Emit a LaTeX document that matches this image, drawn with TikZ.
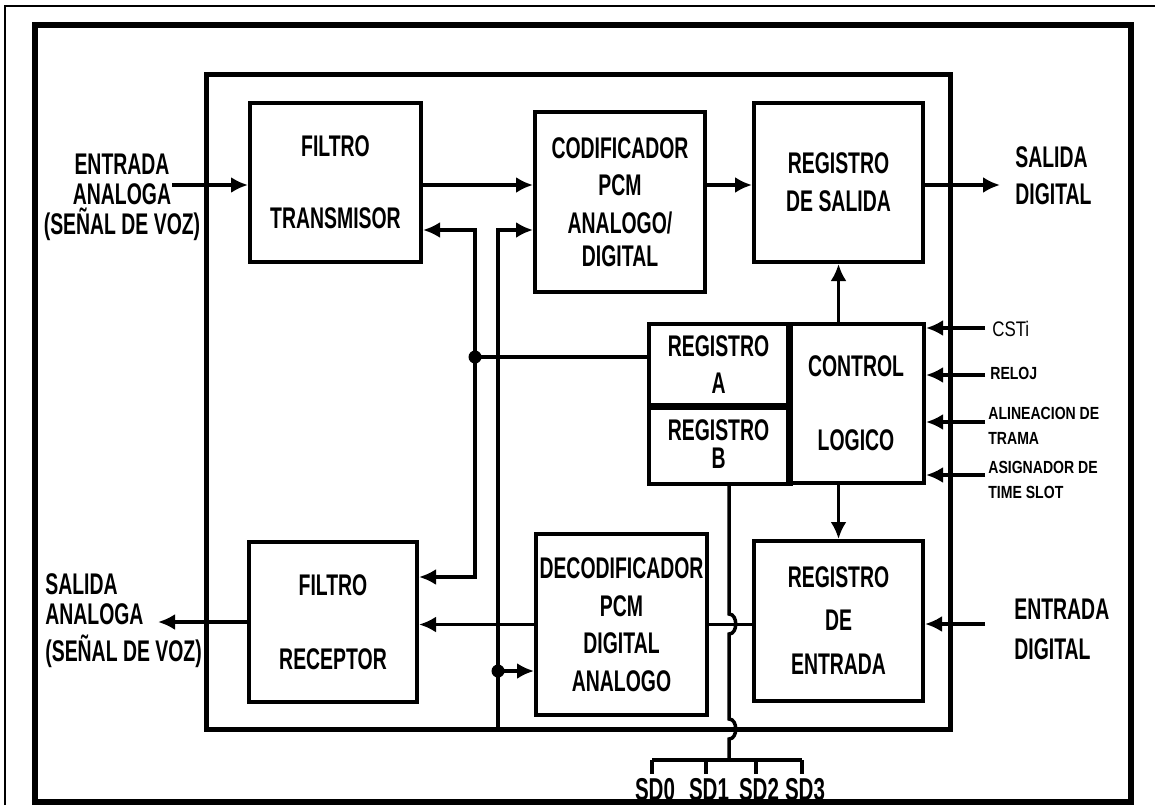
\documentclass[tikz,border=0pt]{standalone}
\usepackage{fontspec}
\newfontfamily\condfont{Liberation Sans}[FakeStretch=0.65]
\newfontfamily\narrowfont{Liberation Sans}[FakeStretch=0.8]
\usepackage{tikz}
\usetikzlibrary{arrows.meta, positioning, calc}

\begin{document}
\begin{tikzpicture}[
        x=0.2mm, y=-0.2mm,
        box/.style={rectangle, draw, line width=0.8mm, inner sep=0pt, align=center,
            font=\condfont\bfseries\fontsize{17}{20}\selectfont},
        chipbox/.style={rectangle, draw, line width=1mm, inner sep=0pt},
        tag/.style={align=center, inner sep=0pt, font=\condfont\bfseries\fontsize{17}{17}\selectfont},
        pin/.style={align=left, inner sep=0pt, anchor=west, font=\narrowfont\bfseries\fontsize{10}{14}\selectfont},
        sdtag/.style={inner sep=0pt, font=\condfont\bfseries\fontsize{18}{18}\selectfont},
        wire/.style={line width=0.7mm},
        arrow/.style={wire, ->},
        dot/.style={circle, fill, inner sep=0pt, minimum size=2.6mm},
        >={Latex[length=3.4mm,width=3.2mm]}
    ]
    \useasboundingbox (0,0) rectangle (1161,805);

    % marcos
    \draw[line width=0.3mm] (5,805) -- (5,6) -- (1155,6);
    \draw[line width=1.2mm] (35,25) rectangle (1131,802);
    \node (chip) [chipbox, minimum width=148.6mm, minimum height=130.8mm] at (578.5,402) {};

    % bloques
    \node (ftx) [box, minimum width=34.2mm, minimum height=31.8mm] at (335.5,182.5) {FILTRO\\[21pt]TRANSMISOR};
    \node (cod) [box, minimum width=34mm, minimum height=36mm] at (620,202) {CODIFICADOR\\[1pt]PCM\\[1.5pt]ANALOGO/\\[-1.3pt]DIGITAL};
    \node (rsal) [box, minimum width=33.8mm, minimum height=31.8mm] at (838.5,182.5) {REGISTRO\\[1.5pt]DE SALIDA};
    \node (rega) [box, minimum width=27.8mm, minimum height=16.2mm] at (718.5,364.5) {REGISTRO\\[1pt]A};
    \node (regb) [box, minimum width=27.8mm, minimum height=15.8mm] at (718.5,444.5) {REGISTRO\\[-4pt]B};
    \node (ctrl) [box, minimum width=27.2mm, minimum height=31.8mm] at (856,403.5) {CONTROL\\[22pt]LOGICO};
    \node (rent) [box, minimum width=33.8mm, minimum height=32mm] at (838.5,621) {REGISTRO\\[4pt]DE\\[5.5pt]ENTRADA};
    \node (dec) [box, minimum width=34.2mm, minimum height=36.2mm] at (621.5,624.5) {DECODIFICADOR\\[1.5pt]PCM\\[1pt]DIGITAL\\[1.5pt]ANALOGO};
    \node (frx) [box, minimum width=33.6mm, minimum height=32mm] at (333,622) {FILTRO\\[22pt]RECEPTOR};
    \draw[line width=1.1mm] (rega.north east) -- (regb.south east);
    \draw[line width=1.1mm] (rega.south west) -- (rega.south east);

    % textos exteriores
    \node (entana) [tag] at (122,197) {ENTRADA\\ANALOGA\\(SEÑAL DE VOZ)};
    \node (salana) [tag, align=left, anchor=west] at (45,621) {SALIDA\\[0pt]ANALOGA\\[4pt](SEÑAL DE VOZ)};
    \node (saldig) [tag, align=left, anchor=west] at (1015,176) {SALIDA\\[4pt]DIGITAL};
    \node (entdig) [tag, align=left, anchor=west] at (1014,629) {ENTRADA\\[5.7pt]DIGITAL};
    \node (csti) [pin, font=\narrowfont\fontsize{12}{14}\selectfont] at (992,329) {CSTi};
    \node (reloj) [pin] at (990,373) {RELOJ};
    \node (trama) [pin] at (988,426) {ALINEACION DE\\TRAMA};
    \node (slot) [pin] at (988,480) {ASIGNADOR DE\\TIME SLOT};

    % camino de transmision
    \coordinate (ain) at (172,185);
    \coordinate (dout) at (1000,185);
    \draw[arrow] (ain) -- (ain -| ftx.west);
    \draw[arrow] (ftx.east |- ain) -- (ain -| cod.west);
    \draw[arrow] (cod.east |- ain) -- (ain -| rsal.west);
    \draw[arrow] (rsal.east |- dout) -- (dout);

    % camino de recepcion
    \coordinate (din) at (985,624);
    \coordinate (aout) at (158,622);
    \draw[arrow] (din) -- (din -| rent.east);
    \draw[wire] (rent.west |- dec.east) -- (dec.east);
    \draw[arrow] (dec.west) -- (dec.west -| frx.east);
    \draw[arrow] (frx.west) -- (aout);

    % control
    \draw[arrow] (rsal.south |- ctrl.north) -- (rsal.south);
    \draw[arrow] (rent.north |- ctrl.south) -- (rent.north);
    \foreach \y [count=\i] in {328,375,422,475} {
        \coordinate (cin\i) at (985,\y);
        \draw[arrow] (cin\i) -- (cin\i -| ctrl.east);
    }

    % buses internos
    \node (j1) [dot] at (475,357) {};
    \node (j2) [dot] at (498,671) {};
    \coordinate (b1t) at (475,230);
    \coordinate (b1b) at (475,577);
    \coordinate (b2t) at (498,230);
    \draw[arrow] (j1.center) -- (b1t) -- (b1t -| ftx.east);
    \draw[arrow] (j1.center) -- (b1b) -- (b1b -| frx.east);
    \draw[wire] (j1.center) -- (j1 -| rega.west);
    \draw[arrow] (b2t |- chip.south) -- (b2t) -- (b2t -| cod.west);
    \draw[arrow] (j2.center) -- (j2 -| dec.west);

    % salidas SD
    \coordinate (sd) at (729,760);
    \draw[wire] (regb.south -| sd) -- (729,614) .. controls (738,614) and (738,634) .. (729,634)
        -- (729,719) .. controls (738,719) and (738,739) .. (729,739) -- (sd);
    \draw[line width=0.8mm] (652,760) -- (802,760);
    \foreach \x [count=\i from 0] in {652,706,756,802} {
        \node (sd\i) [sdtag] at (\x+3,790) {SD\i};
        \draw[wire] (\x,760) -- (\x,774);
    }

\end{tikzpicture}
\end{document}
